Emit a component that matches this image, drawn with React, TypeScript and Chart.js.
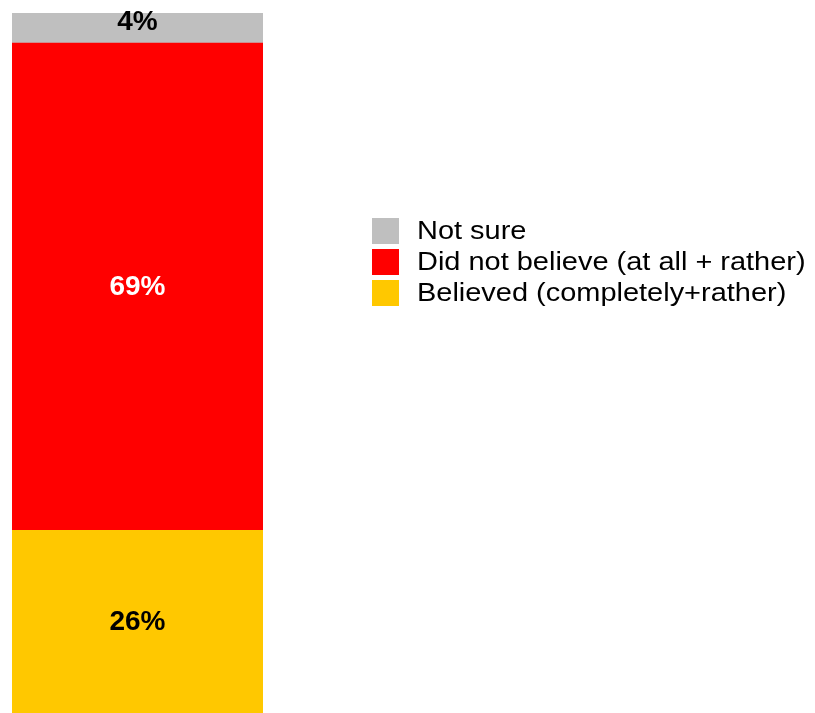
import React, { useEffect, useRef } from "react";
import { Chart, registerables } from "chart.js";

Chart.register(...registerables);

const categories = ["All"];
const seriesNames = ["Believed (completely+rather)", "Did not believe (at all + rather)", "Not sure"];
const believed = [26.1];
const didNotBelieve = [69.6];
const notSure = [4.3];
const believedLabels = ["26%"];
const didNotBelieveLabels = ["69%"];
const notSureLabels = ["4%"];
const seriesColors = ["#FFC800", "#FF0000", "#BFBFBF"];
const labelColors = ["#000000", "#FFFFFF", "#000000"];

const FONT = "'Liberation Sans', Arial, sans-serif";
const allLabels = [believedLabels, didNotBelieveLabels, notSureLabels];

const valueLabels = {
  id: "valueLabels",
  afterDatasetsDraw(chart: any) {
    const ctx = chart.ctx;
    ctx.save();
    ctx.font = `bold 28px ${FONT}`;
    ctx.textAlign = "center";
    ctx.textBaseline = "middle";
    chart.data.datasets.forEach((ds: any, i: number) => {
      const meta = chart.getDatasetMeta(i);
      meta.data.forEach((el: any, j: number) => {
        const top = Math.min(el.y, el.base);
        const bottom = Math.max(el.y, el.base);
        let y = (top + bottom) / 2;
        if (bottom - top < 40) y -= 7;
        ctx.fillStyle = labelColors[i];
        ctx.fillText(allLabels[i][j], el.x, y + 1);
      });
    });
    ctx.restore();
  },
};

const sideLegend = {
  id: "sideLegend",
  afterDraw(chart: any) {
    const ctx = chart.ctx;
    ctx.save();
    ctx.font = `25px ${FONT}`;
    ctx.textAlign = "left";
    ctx.textBaseline = "middle";
    const ds = chart.data.datasets.slice().reverse();
    const x0 = 372;
    const y0 = 218;
    const step = 31;
    const box = 26;
    const stretch = 1.158;
    ds.forEach((d: any, k: number) => {
      const y = y0 + k * step;
      ctx.fillStyle = d.backgroundColor;
      ctx.fillRect(x0, y, box + 1, box);
      ctx.fillStyle = "#000000";
      ctx.save();
      ctx.translate(x0 + 45, y + box / 2 + 1);
      ctx.scale(stretch, 1);
      ctx.fillText(d.label, 0, 0);
      ctx.restore();
    });
    ctx.restore();
  },
};

export default function App() {
  const ref = useRef<HTMLCanvasElement>(null);
  useEffect(() => {
    document.body.style.margin = "0";
    const total = believed[0] + didNotBelieve[0] + notSure[0];
    const chart = new Chart(ref.current!, {
      type: "bar",
      data: {
        labels: categories,
        datasets: [
          { label: seriesNames[0], data: believed, backgroundColor: seriesColors[0] },
          { label: seriesNames[1], data: didNotBelieve, backgroundColor: seriesColors[1] },
          { label: seriesNames[2], data: notSure, backgroundColor: seriesColors[2] },
        ],
      },
      options: {
        animation: false,
        responsive: false,
        devicePixelRatio: 1,
        layout: { padding: { left: 12, right: 552, top: 13, bottom: 0 } },
        datasets: { bar: { barPercentage: 1, categoryPercentage: 1, borderWidth: 0 } },
        scales: {
          x: { stacked: true, display: false },
          y: { stacked: true, display: false, min: 0, max: total },
        },
        plugins: { legend: { display: false }, tooltip: { enabled: false } },
      },
      plugins: [valueLabels, sideLegend],
    });
    return () => chart.destroy();
  }, []);
  return (
    <div style={{ position: "absolute", left: 0, top: 0, width: 815, height: 713, background: "#fff" }}>
      <canvas ref={ref} width={815} height={713} style={{ width: 815, height: 713, display: "block" }} />
    </div>
  );
}
